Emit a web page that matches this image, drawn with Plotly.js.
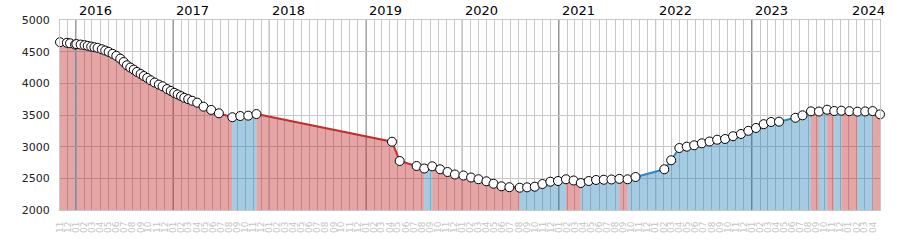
<!DOCTYPE html>
<html><head><meta charset="utf-8">
<script src="https://cdn.plot.ly/plotly-3.0.1.min.js"></script>
<style>html,body{margin:0;padding:0;background:#fff}#c{width:900px;height:250px}</style>
</head><body><div id="c"></div>
<script>
const dates = [
'2015-11-01','2015-11-27','2015-12-09','2015-12-28','2016-01-02','2016-01-18','2016-02-02','2016-02-14','2016-02-27','2016-03-10',
'2016-03-22','2016-04-07','2016-04-20','2016-05-03','2016-05-18','2016-06-01','2016-06-16','2016-06-29','2016-07-11','2016-07-24',
'2016-08-06','2016-08-18','2016-09-01','2016-09-13','2016-09-26','2016-10-09','2016-10-24','2016-11-09','2016-11-23','2016-12-10',
'2016-12-24','2017-01-06','2017-01-19','2017-02-01','2017-02-13','2017-02-28','2017-03-15','2017-04-03','2017-04-27','2017-05-26',
'2017-06-24','2017-08-14','2017-09-13','2017-10-13','2017-11-13',
'2019-04-10','2019-05-09','2019-07-12','2019-08-10','2019-09-09','2019-10-09','2019-11-06','2019-12-04','2020-01-05','2020-02-03',
'2020-03-02','2020-04-01','2020-04-28','2020-05-28','2020-06-27','2020-08-05','2020-09-02','2020-10-01','2020-10-30','2020-11-29',
'2020-12-28','2021-01-27','2021-02-25','2021-03-24','2021-04-23','2021-05-21','2021-06-19','2021-07-18','2021-08-17','2021-09-17',
'2021-10-17',
'2022-02-03','2022-03-01','2022-04-01','2022-04-29','2022-05-27','2022-06-25','2022-07-24','2022-08-22','2022-09-21','2022-10-21',
'2022-11-20','2022-12-18','2023-01-16','2023-02-14','2023-03-14','2023-04-13','2023-06-14','2023-07-11','2023-08-12','2023-09-11',
'2023-10-12','2023-11-08','2023-12-05','2024-01-04','2024-02-04','2024-03-04','2024-04-01','2024-04-29'
];
const values = [
4650,4640,4632,4612,4620,4612,4603,4592,4580,4570,
4560,4538,4518,4497,4466,4434,4390,4337,4285,4249,
4217,4180,4148,4116,4085,4048,4012,3980,3953,3910,
3880,3850,3825,3798,3772,3750,3725,3695,3631,3580,
3527,3465,3484,3490,3515,
3078,2774,2695,2655,2690,2643,2600,2560,2545,2513,
2486,2453,2415,2374,2360,2352,2358,2368,2410,2447,
2458,2485,2466,2426,2458,2474,2478,2482,2492,2485,
2521,
2643,2785,2979,3000,3022,3053,3082,3110,3121,3165,
3200,3250,3295,3355,3390,3395,3456,3495,3558,3555,
3584,3563,3568,3560,3553,3556,3562,3510
];
const years = [2016,2017,2018,2019,2020,2021,2022,2023,2024];
const yTicks = [2000,2500,3000,3500,4000,4500,5000];
const yRange = [2000,5000];

const RED_LINE = 'rgb(200,45,45)', BLUE_LINE = 'rgb(45,135,200)';
const RED_FILL = 'rgba(190,30,30,0.4)', BLUE_FILL = 'rgba(31,125,185,0.4)';

function runs(up) {
  const out = []; let cur = null;
  for (let i = 0; i < values.length - 1; i++) {
    const isUp = values[i+1] >= values[i];
    if (isUp === up) {
      if (!cur) { cur = [i]; out.push(cur); }
      cur.push(i+1);
    } else cur = null;
  }
  return out;
}
function fillTrace(up, color) {
  const xs = [], ys = [];
  runs(up).forEach(r => {
    r.forEach(i => { xs.push(dates[i]); ys.push(values[i]); });
    xs.push(dates[r[r.length-1]]); ys.push(yRange[0]);
    xs.push(dates[r[0]]); ys.push(yRange[0]);
    xs.push(null); ys.push(null);
  });
  return {x: xs, y: ys, type: 'scatter', mode: 'none', fill: 'toself', fillcolor: color, hoverinfo: 'skip', showlegend: false};
}
function lineTrace(up, color) {
  const xs = [], ys = [];
  runs(up).forEach(r => {
    r.forEach(i => { xs.push(dates[i]); ys.push(values[i]); });
    xs.push(null); ys.push(null);
  });
  return {x: xs, y: ys, type: 'scatter', mode: 'lines', line: {color: color, width: 2}, connectgaps: false, hoverinfo: 'skip', showlegend: false};
}

const traces = [
  fillTrace(false, RED_FILL), fillTrace(true, BLUE_FILL),
  lineTrace(false, RED_LINE), lineTrace(true, BLUE_LINE),
  {x: dates, y: values, type: 'scatter', mode: 'markers', cliponaxis: false,
   marker: {symbol: 'circle', size: 9, color: '#ffffff', line: {color: '#000', width: 1}}, showlegend: false}
];

const shapes = years.map(y => ({type: 'line', xref: 'x', yref: 'paper', x0: y + '-01-01', x1: y + '-01-01', y0: 0, y1: 1,
  line: {color: '#000', width: 1}, layer: 'between'}));
const annotations = years.map(y => ({x: y + '-01-01', xref: 'x', yref: 'paper', y: 1, yanchor: 'bottom', xanchor: 'left',
  xshift: 1, yshift: 0, text: String(y), showarrow: false, font: {family: 'DejaVu Sans', size: 13, color: '#000'}}));

const layout = {
  width: 900, height: 250,
  margin: {l: 60, r: 20, t: 20, b: 40},
  paper_bgcolor: '#fff', plot_bgcolor: '#fff',
  font: {family: 'DejaVu Sans'},
  showlegend: false,
  xaxis: {type: 'date', range: [dates[0], dates[dates.length-1]], tick0: '2015-11-01', dtick: 'M1', tickformat: '%m',
    tickangle: -90, tickfont: {size: 9, color: '#c4c4c4', family: 'DejaVu Sans'}, ticks: '', ticklabelstandoff: 7,
    showgrid: true, gridcolor: '#c8c8c8', gridwidth: 1, showline: true, linecolor: '#c8c8c8', mirror: true, zeroline: false},
  yaxis: {range: yRange, tickvals: yTicks, ticktext: yTicks.map(String), ticks: '', ticklabelstandoff: 7,
    tickfont: {size: 11, color: '#222', family: 'DejaVu Sans'},
    showgrid: true, gridcolor: '#c8c8c8', gridwidth: 1, showline: true, linecolor: '#c8c8c8', mirror: true, zeroline: false},
  shapes: shapes,
  annotations: annotations
};
Plotly.newPlot('c', traces, layout, {staticPlot: true, displayModeBar: false});
</script></body></html>
